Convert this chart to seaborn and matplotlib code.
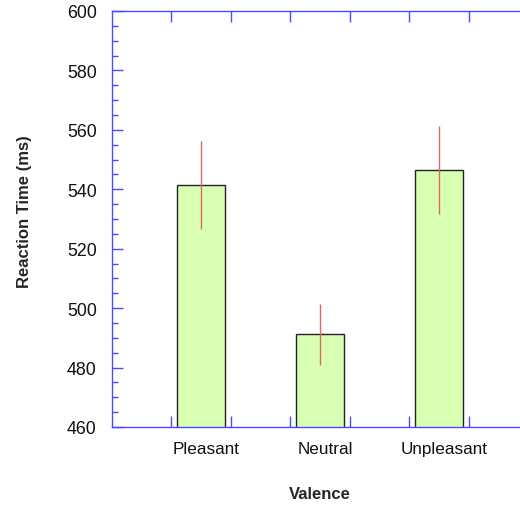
import numpy as np
import pandas as pd
import matplotlib
matplotlib.use("Agg")
import matplotlib.pyplot as plt
import matplotlib.transforms as mtransforms
import seaborn as sns

valence = ["Pleasant", "Neutral", "Unpleasant"]
rt_mean = [541.5, 491.2, 546.5]
rt_err = [14.9, 10.2, 14.8]

sns.set_theme(style="white")
plt.rcParams["font.family"] = ["Liberation Sans", "DejaVu Sans"]

blue = "#4a4aff"
df = pd.DataFrame({"Valence": valence, "RT": rt_mean})

fig = plt.figure(figsize=(5.2, 5.06), dpi=100)
ax = fig.add_axes([112 / 520, 78 / 506, 416 / 520, 416 / 506])

sns.barplot(data=df, x="Valence", y="RT", color="#d9ffb3", width=0.4,
            edgecolor="#222222", linewidth=1.0, saturation=1, ax=ax)
ax.errorbar(np.arange(len(valence)), rt_mean, yerr=rt_err, fmt="none",
            ecolor="#e06666", elinewidth=1.0, capsize=0, zorder=5)

ax.set_ylim(460, 600)
ax.set_xlim(-0.75, 2.75)
ax.set_yticks(np.arange(460, 601, 20))
ax.set_yticks(np.arange(460, 601, 5), minor=True)
ax.set_xticks(range(len(valence)))
ax.set_xticklabels(valence)
ax.set_xticks(np.arange(-0.25, 2.3, 0.5), minor=True)

ax.tick_params(axis="x", which="major", length=0, pad=10, labelsize=12.3,
               colors="#111111")
ax.tick_params(axis="x", which="minor", length=8, width=1, direction="in",
               color=blue, top=True, bottom=True)
ax.tick_params(axis="y", which="major", length=8, width=1, direction="in",
               color=blue, labelcolor="#111111", labelsize=12.8, pad=11, left=True)
ax.tick_params(axis="y", which="minor", length=4, width=1, direction="in",
               color=blue, left=True)

# category labels sit a little right of the bar centres in the original
shift = mtransforms.ScaledTranslation(5 / 100, 0, fig.dpi_scale_trans)
for lbl in ax.get_xticklabels():
    lbl.set_transform(lbl.get_transform() + shift)

for side in ["top", "bottom", "left", "right"]:
    ax.spines[side].set_color(blue)
    ax.spines[side].set_linewidth(1.0)

ax.set_xlabel("Valence", fontweight="bold", fontsize=12, labelpad=22)
ax.set_ylabel("Reaction Time (ms)", fontweight="bold", fontsize=12)
ax.yaxis.set_label_coords(-0.192, 0.519)

fig.savefig("out.png", dpi=100)
